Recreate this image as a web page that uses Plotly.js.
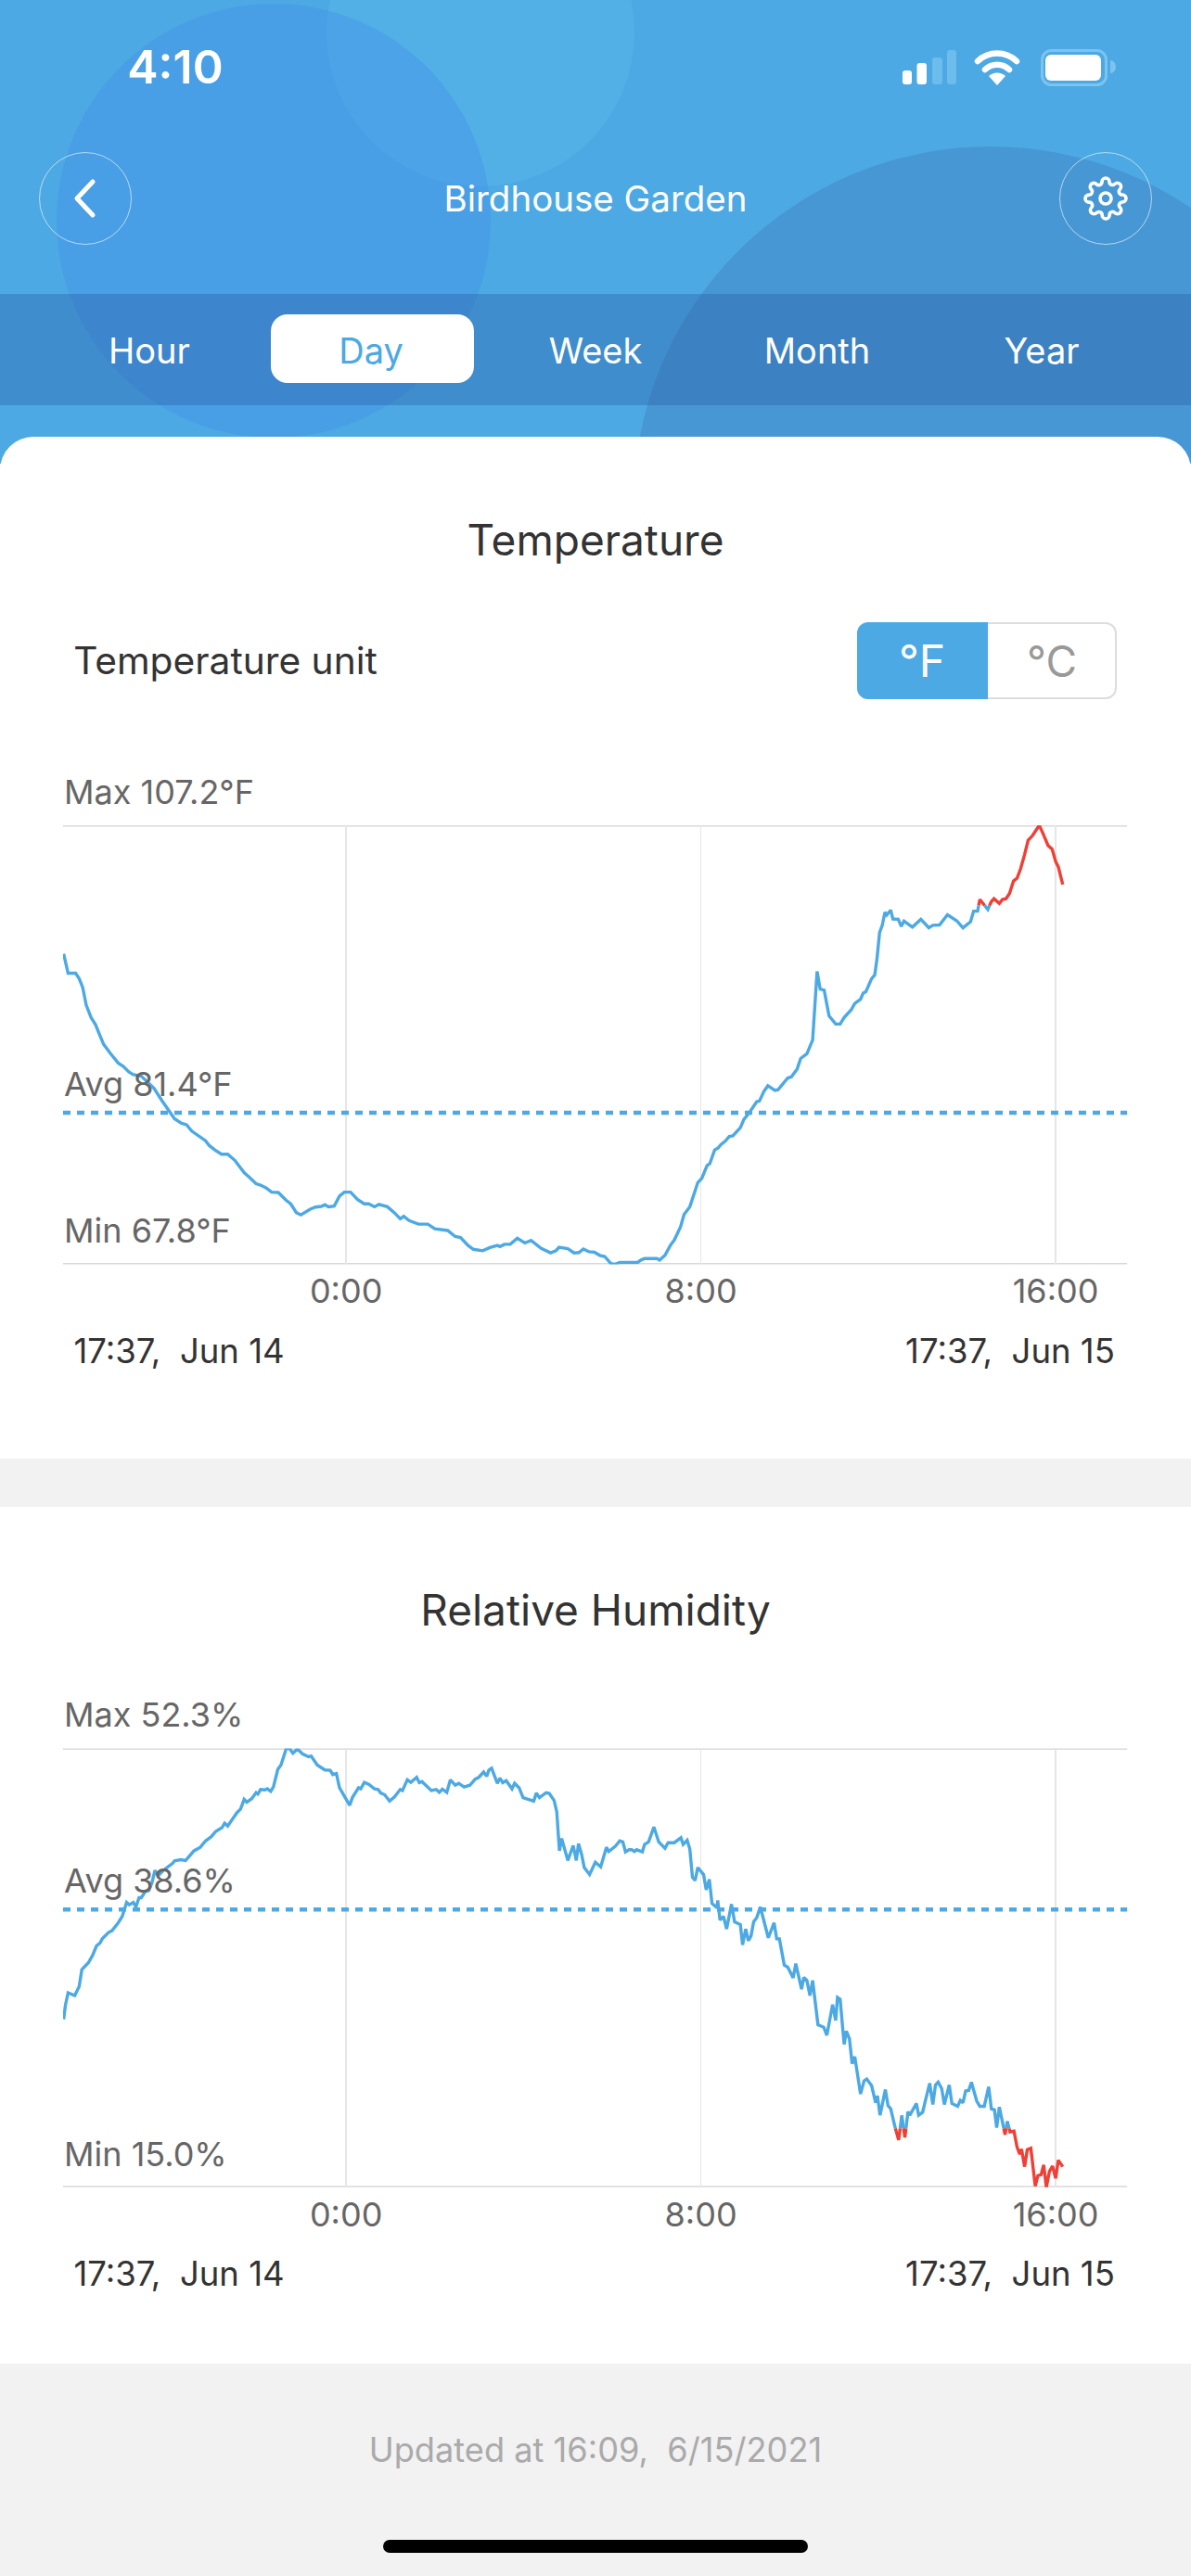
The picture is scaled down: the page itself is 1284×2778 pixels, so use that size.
<!DOCTYPE html>
<html><head><meta charset="utf-8">
<script src="https://cdn.plot.ly/plotly-3.0.1.min.js"></script>
<style>
html,body{margin:0;padding:0;background:#f2f2f2}
#page{position:relative;width:1284px;height:2778px;overflow:hidden;font-family:Inter,"Liberation Sans",sans-serif;background:#f2f2f2}
#page>*{position:absolute}
.t{white-space:pre;line-height:1;transform:translate(-50%,-50%)}
.c{border-radius:50%}
.btn{width:100px;height:100px;border:1.5px solid rgba(255,255,255,.6);border-radius:50%;box-sizing:border-box}
#chart{left:0;top:0;width:1284px;height:2778px}
</style></head><body>
<div id="page">
 <div style="left:0;top:0;width:1284px;height:500px;background:#4ca9e3;overflow:hidden">
  <div class="c" style="position:absolute;left:352px;top:-131px;width:332px;height:332px;background:#53b0e6"></div>
  <div class="c" style="position:absolute;left:61px;top:4px;width:468px;height:468px;background:rgba(70,150,232,.5)"></div>
  <div class="c" style="position:absolute;left:683px;top:158px;width:770px;height:770px;background:#4797d5"></div>
  <div style="position:absolute;left:0;top:317px;width:1284px;height:120px;background:rgba(40,90,160,.35)"></div>
 </div>
 <div style="left:0;top:471px;width:1284px;height:1102px;background:#fff;border-radius:36px 36px 0 0"></div>
 <div style="left:0;top:1625px;width:1284px;height:924px;background:#fff"></div>

 <div class="t" style="left:189px;top:72px;color:#fff;font-size:50px;font-weight:600">4:10</div>
 <svg style="left:965px;top:45px" width="245" height="55" viewBox="965 45 245 55">
  <rect x="973" y="76" width="10" height="15" rx="3" fill="#fff"/>
  <rect x="988.5" y="68" width="10.5" height="23" rx="3" fill="#fff"/>
  <rect x="1005" y="62" width="11" height="29" rx="3" fill="#6cbcec"/>
  <rect x="1021" y="54" width="10" height="37" rx="3" fill="#6cbcec"/>
  <path d="M1054 66a30 30 0 0 1 42 0M1062 75a19 19 0 0 1 26 0" fill="none" stroke="#fff" stroke-width="6.5" stroke-linecap="round"/>
  <path d="M1075 92l-9-10a13 13 0 0 1 18 0z" fill="#fff"/>
  <rect x="1123.5" y="54.5" width="69" height="37" rx="10" fill="none" stroke="#7cc4ee" stroke-width="3"/>
  <rect x="1127" y="59" width="60" height="28" rx="6" fill="#fff"/>
  <path d="M1197 65a6 7 0 0 1 0 14z" fill="#7cc4ee"/>
 </svg>

 <div class="btn" style="left:42px;top:164px"></div>
 <svg style="left:75px;top:190px" width="36" height="48" viewBox="0 0 36 48"><path d="M25 6L8 24l17 18" fill="none" stroke="#fff" stroke-width="5" stroke-linecap="round" stroke-linejoin="round"/></svg>
 <div class="t" style="left:642px;top:214px;color:#fff;font-size:38.5px">Birdhouse Garden</div>
 <div class="btn" style="left:1142px;top:164px"></div>
 <svg style="left:1168px;top:190px" width="48" height="48" viewBox="0 0 24 24" fill="none" stroke="#fff" stroke-width="1.8" stroke-linejoin="round"><circle cx="12" cy="12" r="3"/><path d="M19.4 15a1.65 1.65 0 0 0 .33 1.82l.06.06a2 2 0 0 1 0 2.83 2 2 0 0 1-2.83 0l-.06-.06a1.65 1.65 0 0 0-1.82-.33 1.65 1.65 0 0 0-1 1.51V21a2 2 0 0 1-2 2 2 2 0 0 1-2-2v-.09A1.65 1.65 0 0 0 9 19.4a1.65 1.65 0 0 0-1.82.33l-.06.06a2 2 0 0 1-2.83 0 2 2 0 0 1 0-2.83l.06-.06a1.65 1.65 0 0 0 .33-1.82 1.65 1.65 0 0 0-1.51-1H3a2 2 0 0 1-2-2 2 2 0 0 1 2-2h.09A1.65 1.65 0 0 0 4.6 9a1.65 1.65 0 0 0-.33-1.82l-.06-.06a2 2 0 0 1 0-2.83 2 2 0 0 1 2.83 0l.06.06a1.65 1.65 0 0 0 1.82.33H9a1.65 1.65 0 0 0 1-1.51V3a2 2 0 0 1 2-2 2 2 0 0 1 2 2v.09a1.65 1.65 0 0 0 1 1.51 1.65 1.65 0 0 0 1.82-.33l.06-.06a2 2 0 0 1 2.83 0 2 2 0 0 1 0 2.83l-.06.06a1.65 1.65 0 0 0-.33 1.82V9a1.65 1.65 0 0 0 1.51 1H21a2 2 0 0 1 2 2 2 2 0 0 1-2 2h-.09a1.65 1.65 0 0 0-1.51 1z"/></svg>

 <div style="left:292px;top:339px;width:219px;height:74px;background:#fff;border-radius:18px"></div>
 <div class="t" style="left:161px;top:378px;color:#fff;font-size:38px">Hour</div>
 <div class="t" style="left:400px;top:378px;color:#4ca9e3;font-size:38px">Day</div>
 <div class="t" style="left:642px;top:378px;color:#fff;font-size:38px">Week</div>
 <div class="t" style="left:881px;top:378px;color:#fff;font-size:38px">Month</div>
 <div class="t" style="left:1123px;top:378px;color:#fff;font-size:38px">Year</div>

 <div class="t" style="left:642px;top:582px;color:#333;font-size:46px">Temperature</div>
 <div class="t" style="left:243px;top:713px;color:#333;font-size:40.7px">Temperature unit</div>
 <div style="left:924px;top:671px;width:280px;height:83px;box-sizing:border-box;border:2px solid #ddd;border-radius:12px;background:#fff"></div>
 <div style="left:924px;top:671px;width:141px;height:83px;background:#4ca9e3;border-radius:12px 0 0 12px"></div>
 <div class="t" style="left:994px;top:713px;color:#fff;font-size:48px">°F</div>
 <div class="t" style="left:1134px;top:713px;color:#999;font-size:46px">°C</div>

 <div class="t" style="left:193px;top:1457px;color:#333;font-size:36.5px">17:37,  Jun 14</div>
 <div class="t" style="left:1089px;top:1457px;color:#333;font-size:36.5px">17:37,  Jun 15</div>
 <div class="t" style="left:642px;top:1736px;color:#333;font-size:46px">Relative Humidity</div>
 <div class="t" style="left:193px;top:2452px;color:#333;font-size:36.5px">17:37,  Jun 14</div>
 <div class="t" style="left:1089px;top:2452px;color:#333;font-size:36.5px">17:37,  Jun 15</div>
 <div class="t" style="left:642px;top:2642px;color:#aaa;font-size:36.2px">Updated at 16:09,  6/15/2021</div>
 <div style="left:413px;top:2739px;width:458px;height:14px;border-radius:7px;background:#000"></div>
 <div id="chart"></div>
</div>
<script>
// Time axis: hours relative to midnight of Jun 15 (17:37 on Jun 14 to 17:37 on Jun 15)
const axisStart = -6.383, axisEnd = 17.617;
const hourTicks = [0, 8, 16];
const hourLabels = ["0:00", "8:00", "16:00"];

const tempMax = 107.2, tempAvg = 81.4, tempMin = 67.8, tempLimit = 100;
const humMax = 52.3, humAvg = 38.6, humMin = 15.0, humLimit = 20;

const tempHours = [-6.37,-6.31,-6.27,-6.10,-6.02,-5.94,-5.86,-5.75,-5.65,-5.57,-5.47,-5.32,-5.14,-5.03,-4.90,-4.81,-4.62,-4.45,-4.33,-4.16,-4.01,-3.87,-3.71,-3.60,-3.48,-3.29,-3.17,-3.09,-2.96,-2.81,-2.67,-2.51,-2.30,-2.18,-2.03,-1.93,-1.80,-1.68,-1.53,-1.35,-1.25,-1.12,-1.02,-0.81,-0.69,-0.56,-0.48,-0.40,-0.27,-0.15,-0.04,0.10,0.26,0.41,0.51,0.64,0.74,0.93,1.09,1.22,1.30,1.42,1.63,1.84,2.00,2.29,2.46,2.58,2.75,2.87,3.08,3.24,3.41,3.47,3.57,3.70,3.86,4.03,4.17,4.40,4.61,4.73,4.80,5.00,5.14,5.25,5.35,5.48,5.60,5.72,5.83,5.97,6.07,6.17,6.57,6.65,6.73,7.01,7.07,7.19,7.31,7.40,7.54,7.62,7.75,7.93,8.02,8.14,8.20,8.31,8.39,8.45,8.55,8.64,8.72,8.89,8.97,9.08,9.26,9.32,9.42,9.51,9.67,9.74,9.84,9.96,10.04,10.17,10.25,10.39,10.52,10.62,10.69,10.78,10.89,11.04,11.14,11.23,11.39,11.47,11.60,11.66,11.72,11.85,11.92,11.97,12.03,12.09,12.15,12.19,12.28,12.33,12.45,12.52,12.58,12.77,12.96,13.14,13.23,13.38,13.56,13.77,13.91,14.08,14.15,14.24,14.29,14.47,14.55,14.61,14.73,14.80,14.88,14.96,15.05,15.13,15.21,15.30,15.38,15.48,15.63,15.71,15.83,15.92,16.00,16.06,16.16];
const tempValues = [95.67,94.40,93.92,93.92,93.44,92.64,91.05,89.94,89.30,88.50,87.55,86.75,85.86,85.57,85.06,84.84,84.68,84.05,83.57,82.52,81.66,80.86,80.45,80.32,79.75,79.20,78.89,78.47,78.06,77.68,77.68,77.13,76.02,75.60,75.03,74.90,74.65,74.27,74.24,73.53,73.22,72.42,72.23,72.74,72.93,72.99,73.15,72.96,73.02,73.92,74.27,74.27,73.60,73.22,73.22,72.96,73.18,72.96,72.42,71.88,72.10,71.72,71.40,71.40,70.99,70.83,70.29,70.19,69.49,69.14,69.01,69.30,69.49,69.39,69.59,69.59,70.13,69.71,69.94,69.23,68.82,69.01,69.33,69.20,68.82,68.85,69.17,68.92,68.88,68.60,68.50,67.87,67.80,67.96,67.96,68.18,68.31,68.31,68.18,68.60,69.49,69.97,71.15,72.26,72.96,75.13,75.51,76.66,76.82,78.06,78.25,78.53,78.85,79.27,79.33,80.06,80.80,81.34,82.39,82.45,83.31,83.82,83.41,83.47,83.95,84.52,84.62,85.32,86.27,86.69,87.93,94.08,92.49,92.39,90.10,89.36,89.36,89.94,90.64,91.21,91.59,92.13,92.26,93.44,93.76,95.19,97.58,98.22,99.40,99.14,99.59,98.79,98.76,98.12,98.60,98.06,98.76,98.00,98.22,98.25,99.17,98.63,98.00,98.54,99.49,99.49,100.54,99.65,100.35,100.61,100.19,100.54,100.61,101.08,102.20,102.45,103.31,104.59,105.86,106.28,107.20,106.50,105.38,105.07,103.95,103.47,101.88];

const humHours = [-6.37,-6.33,-6.27,-6.12,-6.02,-5.96,-5.81,-5.72,-5.63,-5.55,-5.50,-5.36,-5.28,-5.15,-5.05,-4.95,-4.89,-4.80,-4.74,-4.67,-4.62,-4.53,-4.45,-4.38,-4.31,-4.24,-4.12,-3.91,-3.87,-3.73,-3.62,-3.43,-3.29,-3.17,-3.04,-2.94,-2.80,-2.74,-2.67,-2.46,-2.38,-2.30,-2.24,-2.13,-2.03,-1.99,-1.93,-1.83,-1.78,-1.70,-1.64,-1.54,-1.47,-1.35,-1.28,-1.20,-1.10,-0.98,-0.85,-0.79,-0.65,-0.48,-0.36,-0.30,-0.22,-0.15,-0.02,0.08,0.14,0.28,0.33,0.41,0.51,0.64,0.72,0.78,0.87,0.98,1.09,1.22,1.27,1.38,1.46,1.59,1.65,1.71,1.92,2.03,2.10,2.17,2.27,2.35,2.46,2.54,2.66,2.79,2.91,2.99,3.10,3.17,3.22,3.28,3.41,3.47,3.53,3.61,3.74,3.80,3.90,3.99,4.23,4.29,4.36,4.51,4.58,4.69,4.75,4.81,4.86,5.00,5.12,5.19,5.24,5.31,5.37,5.49,5.62,5.74,5.87,5.92,6.07,6.17,6.24,6.30,6.38,6.44,6.50,6.55,6.68,6.73,6.82,6.94,7.05,7.19,7.26,7.40,7.55,7.60,7.69,7.75,7.81,7.87,7.93,8.06,8.12,8.19,8.25,8.36,8.38,8.43,8.51,8.58,8.69,8.76,8.89,8.94,9.01,9.07,9.13,9.19,9.26,9.34,9.52,9.65,9.71,9.77,9.88,9.96,10.08,10.14,10.27,10.32,10.39,10.46,10.52,10.64,10.77,10.84,10.97,11.04,11.08,11.14,11.23,11.28,11.35,11.41,11.47,11.60,11.68,11.74,11.85,11.94,11.98,12.04,12.16,12.22,12.28,12.38,12.46,12.53,12.60,12.67,12.71,12.86,12.91,13.00,13.06,13.16,13.23,13.29,13.35,13.43,13.49,13.60,13.66,13.79,13.85,13.91,13.97,14.04,14.10,14.22,14.29,14.39,14.49,14.55,14.62,14.67,14.73,14.86,14.91,14.97,15.06,15.13,15.19,15.23,15.30,15.36,15.44,15.54,15.60,15.67,15.73,15.79,15.86,15.93,16.00,16.06,16.16];
const humValues = [29.27,30.47,31.53,31.29,32.07,33.49,34.09,34.69,35.51,35.75,36.11,36.65,36.80,37.41,38.01,39.21,39.00,39.21,38.82,39.61,39.61,40.12,40.21,40.87,41.93,41.48,41.93,42.53,42.74,42.83,42.77,43.59,43.89,44.43,44.79,45.24,45.55,45.94,45.70,46.84,47.14,47.96,47.72,48.02,48.53,48.41,48.80,48.77,48.86,48.65,49.01,50.52,50.88,52.27,52.30,51.88,52.24,51.82,51.58,51.64,50.88,50.46,50.43,50.07,50.16,48.95,48.11,47.45,48.11,48.95,48.86,49.41,49.25,48.86,48.80,48.50,48.35,47.81,48.17,48.80,48.71,49.62,49.41,49.83,49.38,49.47,48.71,48.80,48.56,48.83,48.56,49.62,49.16,49.32,49.01,49.16,49.68,49.83,50.28,49.92,50.46,50.61,49.32,49.77,49.38,49.56,48.86,49.32,48.95,48.11,47.81,48.50,48.11,48.53,48.47,47.87,46.90,43.59,44.64,42.77,44.04,42.77,44.19,43.29,42.17,41.57,42.62,42.23,43.89,43.53,43.98,44.43,44.34,43.50,43.68,43.68,43.53,43.68,43.50,44.13,44.34,45.61,44.34,43.80,44.28,44.28,44.70,44.13,44.49,43.74,41.33,41.08,42.17,41.57,40.27,41.17,39.12,38.76,39.37,37.71,38.01,36.95,39.06,37.56,37.32,35.60,36.95,35.96,36.35,37.56,37.92,38.82,36.20,37.47,36.11,36.11,33.88,33.70,32.79,34.00,31.83,32.82,32.58,31.29,32.58,28.81,28.60,27.91,30.53,29.17,31.13,30.98,27.15,28.27,27.61,25.50,26.10,22.93,24.05,24.20,23.63,22.18,22.78,21.12,23.30,21.94,21.67,20.07,19.01,21.12,19.23,21.43,21.12,22.12,21.12,21.37,22.33,23.84,22.03,23.69,23.93,23.39,22.03,23.69,22.12,21.88,22.39,22.18,23.18,23.24,23.93,22.33,21.88,21.88,23.54,21.67,21.58,20.07,21.82,19.47,20.61,19.71,19.77,18.41,17.81,18.26,16.75,18.20,18.32,15.09,16.00,16.06,16.90,15.00,16.36,16.81,15.76,17.30,16.75];

const blue = "#4ca9e3", red = "#ee4036", gridGrey = "#d9d9d9", vGrey = "#e6e6e6", labelGrey = "#666";
const uiFont = "Inter, 'Liberation Sans', sans-serif";

// Split a series at a limit so that the out-of-limit part can be coloured red.
function splitAt(xs, ys, limit, isHot) {
  const a = {x: [], y: []}, b = {x: [], y: []};
  for (let i = 0; i < xs.length; i++) {
    const cur = isHot(ys[i]) ? b : a, oth = isHot(ys[i]) ? a : b;
    cur.x.push(xs[i]); cur.y.push(ys[i]);
    if (i + 1 < xs.length && isHot(ys[i]) !== isHot(ys[i + 1])) {
      const f = (limit - ys[i]) / (ys[i + 1] - ys[i]);
      const xc = xs[i] + f * (xs[i + 1] - xs[i]);
      cur.x.push(xc); cur.y.push(limit);
      oth.x.push(null); oth.y.push(null);
      oth.x.push(xc); oth.y.push(limit);
    }
  }
  return [a, b];
}
const [tCool, tHot] = splitAt(tempHours, tempValues, tempLimit, v => v > tempLimit);
const [hOk, hDry] = splitAt(humHours, humValues, humLimit, v => v < humLimit);

const line = (color, w, dash) => ({color, width: w, dash: dash || "solid"});
const tr = (s, color, xa, ya) => ({x: s.x, y: s.y, xaxis: xa, yaxis: ya, type: "scatter", mode: "lines", line: line(color, 3.4), hoverinfo: "skip", connectgaps: false, cliponaxis: true});
const avgTr = (v, xa, ya) => ({x: [axisStart, axisEnd], y: [v, v], xaxis: xa, yaxis: ya, type: "scatter", mode: "lines", line: line(blue, 4.4, "8px,7px"), hoverinfo: "skip"});

const traces = [
  tr(tCool, blue, "x", "y"), tr(tHot, red, "x", "y"), avgTr(tempAvg, "x", "y"),
  tr(hOk, blue, "x2", "y2"), tr(hDry, red, "x2", "y2"), avgTr(humAvg, "x2", "y2")
];

const H = 2778, W = 1284;
const xDomain = [68 / W, 1215.4 / W];
const xAxis = (anchor) => ({
  domain: xDomain, range: [axisStart, axisEnd], anchor, type: "linear",
  tickmode: "array", tickvals: hourTicks, ticktext: hourLabels,
  showgrid: true, gridcolor: vGrey, gridwidth: 1.4, zeroline: false, showline: false,
  ticks: "", ticklabelstandoff: 5,
  tickfont: {family: uiFont, size: 36, color: labelGrey}
});
const yAxis = (anchor, top, bottom, lo, hi) => ({
  domain: [1 - bottom / H, 1 - top / H], range: [lo, hi], anchor,
  showticklabels: false, ticks: "", showgrid: false, zeroline: false, showline: false
});
const rule = (xa, ya, y) => ({
  type: "line", xref: xa, yref: ya, x0: axisStart, x1: axisEnd, y0: y, y1: y,
  layer: "below", line: {color: gridGrey, width: 3}
});
const note = (text, xa, ya, y, shift) => ({
  text, xref: xa, yref: ya, x: axisStart, y, xanchor: "left", yanchor: "bottom", yshift: shift, xshift: 0,
  showarrow: false, font: {family: uiFont, size: 36, color: labelGrey}, borderpad: 0
});
const layout = {
  width: W, height: H, margin: {l: 0, r: 0, t: 0, b: 0}, showlegend: false,
  paper_bgcolor: "rgba(0,0,0,0)", plot_bgcolor: "rgba(0,0,0,0)",
  xaxis: xAxis("y"), yaxis: yAxis("x", 890, 1363.4, tempMin, tempMax),
  xaxis2: xAxis("y2"), yaxis2: yAxis("x2", 1885.4, 2358.8, humMin, humMax),
  shapes: [rule("x", "y", tempMax), rule("x", "y", tempMin), rule("x2", "y2", humMax), rule("x2", "y2", humMin)],
  annotations: [
    note("Max " + tempMax.toFixed(1) + "°F", "x", "y", tempMax, 13),
    note("Avg " + tempAvg.toFixed(1) + "°F", "x", "y", tempAvg, 8),
    note("Min " + tempMin.toFixed(1) + "°F", "x", "y", tempMin, 13),
    note("Max " + humMax.toFixed(1) + "%", "x2", "y2", humMax, 13),
    note("Avg " + humAvg.toFixed(1) + "%", "x2", "y2", humAvg, 8),
    note("Min " + humMin.toFixed(1) + "%", "x2", "y2", humMin, 13)
  ]
};
Plotly.newPlot("chart", traces, layout, {displayModeBar: false, staticPlot: true});
</script>
</body></html>
